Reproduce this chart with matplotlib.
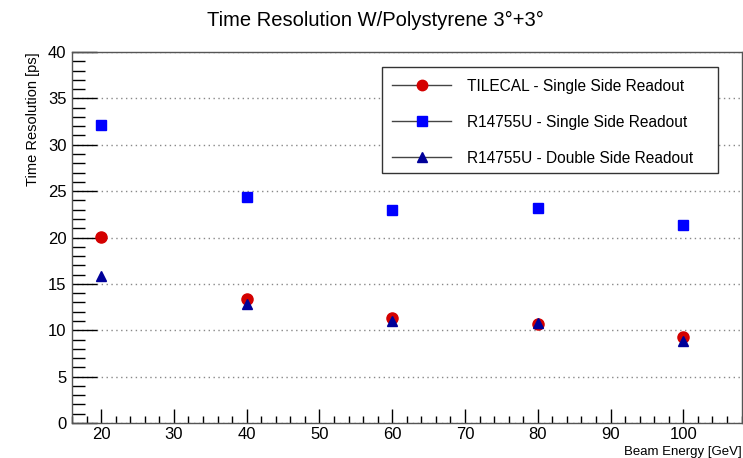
import matplotlib
matplotlib.use("Agg")
import matplotlib.pyplot as plt
from matplotlib.ticker import MultipleLocator
from matplotlib.lines import Line2D
from matplotlib.patches import Rectangle

plt.rcParams['font.family'] = ['Liberation Sans', 'DejaVu Sans']

# Energia del fascio [GeV]
energy = [20, 40, 60, 80, 100]
# Risoluzione temporale [ps]
tilecal_single = [20.1, 13.4, 11.35, 10.65, 9.3]
r14755u_single = [32.1, 24.4, 23.0, 23.2, 21.4]
r14755u_double = [15.9, 12.8, 10.95, 10.8, 8.85]

labels = ['TILECAL - Single Side Readout',
          'R14755U - Single Side Readout',
          'R14755U - Double Side Readout']

fig = plt.figure(figsize=(7.43, 4.58), dpi=100)
ax = fig.add_axes([0.097, 0.0764, 0.901, 0.81])

ax.plot(energy, tilecal_single, 'o', color='#d40000', ms=8, ls='none')
ax.plot(energy, r14755u_single, 's', color='#0000ff', ms=7.5, ls='none')
ax.plot(energy, r14755u_double, '^', color='#000099', ms=7.5, ls='none')

ax.set_xlim(16, 108)
ax.set_ylim(0, 40)
ax.xaxis.set_major_locator(MultipleLocator(10))
ax.xaxis.set_minor_locator(MultipleLocator(2))
ax.yaxis.set_major_locator(MultipleLocator(5))
ax.yaxis.set_minor_locator(MultipleLocator(1))
ax.tick_params(axis='x', which='major', direction='in', length=10, width=1,
               labelsize=12, pad=3, top=False)
ax.tick_params(axis='x', which='minor', direction='in', length=5, width=1, top=False)
ax.tick_params(axis='y', which='major', direction='in', length=18, width=1,
               labelsize=12, pad=4, right=False)
ax.tick_params(axis='y', which='minor', direction='in', length=9, width=1, right=False)

ax.yaxis.grid(True, which='major', ls=(0, (1, 2.5)), color='#888888', lw=1)
ax.set_axisbelow(True)
for s in ax.spines.values():
    s.set_color('#555555')
    s.set_linewidth(1)

ax.set_ylabel('Time Resolution [ps]', fontsize=10.5, loc='top', labelpad=6)
ax.set_xlabel('Beam Energy [GeV]', fontsize=9.5, loc='right')
ax.xaxis.set_label_coords(1.0, -0.078)
ax.xaxis.label.set_va('center')
fig.text(0.505, 0.956, 'Time Resolution W/Polystyrene 3°+3°', fontsize=14.5,
         ha='center', va='center')

handles = [
    Line2D([], [], color='#444444', lw=1, marker='o', mfc='#d40000', mec='#d40000', ms=7.5),
    Line2D([], [], color='#444444', lw=1, marker='s', mfc='#0000ff', mec='#0000ff', ms=7),
    Line2D([], [], color='#444444', lw=1, marker='^', mfc='#000099', mec='#000099', ms=7),
]
leg = ax.legend(handles, labels, loc='upper left', bbox_to_anchor=(0.461, 0.96),
                fontsize=11.2, frameon=False,
                borderpad=0.75, labelspacing=1.35, handlelength=3.8, handletextpad=1.0,
                borderaxespad=0)
# cornice della legenda (piu' larga a destra, come nell'originale)
ax.add_patch(Rectangle((0.463, 0.674), 0.502, 0.286, transform=ax.transAxes,
                       fill=True, fc='white', ec='#333333', lw=1, zorder=4))
leg.set_zorder(5)

fig.savefig('out.png', dpi=100)
